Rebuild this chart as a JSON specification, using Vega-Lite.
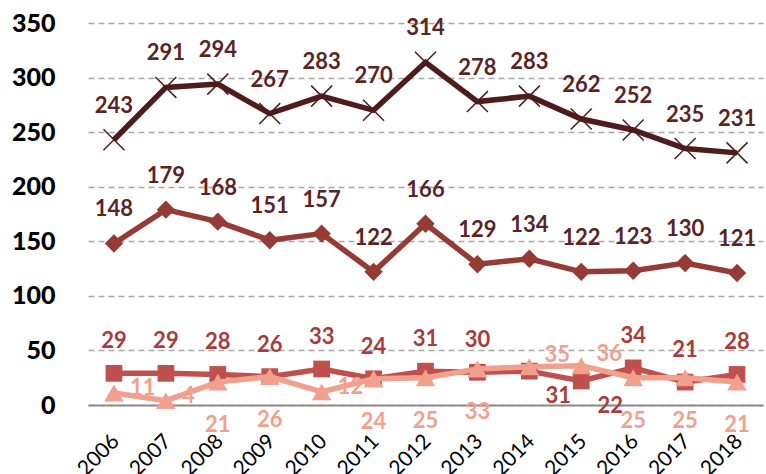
{
  "$schema": "https://vega.github.io/schema/vega-lite/v6.json",
  "autosize": "none",
  "width": 675,
  "height": 382,
  "padding": {"left": 88, "top": 23, "right": 3, "bottom": 69},
  "background": "white",
  "config": {"view": {"stroke": null}, "font": "Lato"},
  "data": {"values": [
    {"year": "2006", "s": "A", "v": 243}, {"year": "2007", "s": "A", "v": 291}, {"year": "2008", "s": "A", "v": 294}, {"year": "2009", "s": "A", "v": 267}, {"year": "2010", "s": "A", "v": 283}, {"year": "2011", "s": "A", "v": 270}, {"year": "2012", "s": "A", "v": 314}, {"year": "2013", "s": "A", "v": 278}, {"year": "2014", "s": "A", "v": 283}, {"year": "2015", "s": "A", "v": 262}, {"year": "2016", "s": "A", "v": 252}, {"year": "2017", "s": "A", "v": 235}, {"year": "2018", "s": "A", "v": 231},
    {"year": "2006", "s": "B", "v": 148}, {"year": "2007", "s": "B", "v": 179}, {"year": "2008", "s": "B", "v": 168}, {"year": "2009", "s": "B", "v": 151}, {"year": "2010", "s": "B", "v": 157}, {"year": "2011", "s": "B", "v": 122}, {"year": "2012", "s": "B", "v": 166}, {"year": "2013", "s": "B", "v": 129}, {"year": "2014", "s": "B", "v": 134}, {"year": "2015", "s": "B", "v": 122}, {"year": "2016", "s": "B", "v": 123}, {"year": "2017", "s": "B", "v": 130}, {"year": "2018", "s": "B", "v": 121},
    {"year": "2006", "s": "C", "v": 29}, {"year": "2007", "s": "C", "v": 29}, {"year": "2008", "s": "C", "v": 28}, {"year": "2009", "s": "C", "v": 26}, {"year": "2010", "s": "C", "v": 33}, {"year": "2011", "s": "C", "v": 24}, {"year": "2012", "s": "C", "v": 31}, {"year": "2013", "s": "C", "v": 30}, {"year": "2014", "s": "C", "v": 31}, {"year": "2015", "s": "C", "v": 22}, {"year": "2016", "s": "C", "v": 34}, {"year": "2017", "s": "C", "v": 21}, {"year": "2018", "s": "C", "v": 28},
    {"year": "2006", "s": "D", "v": 11}, {"year": "2007", "s": "D", "v": 4}, {"year": "2008", "s": "D", "v": 21}, {"year": "2009", "s": "D", "v": 26}, {"year": "2010", "s": "D", "v": 12}, {"year": "2011", "s": "D", "v": 24}, {"year": "2012", "s": "D", "v": 25}, {"year": "2013", "s": "D", "v": 33}, {"year": "2014", "s": "D", "v": 35}, {"year": "2015", "s": "D", "v": 36}, {"year": "2016", "s": "D", "v": 25}, {"year": "2017", "s": "D", "v": 25}, {"year": "2018", "s": "D", "v": 21}
  ]},
  "encoding": {
    "x": {"field": "year", "type": "ordinal", "scale": {"type": "point", "padding": 0.5},
      "axis": {"title": null, "labelAngle": -45, "labelFontSize": 21, "labelColor": "#000000", "labelFont": "Lato", "ticks": false, "domain": true, "domainColor": "#8c8c8c", "domainWidth": 2, "labelPadding": 25, "labelAlign": "right", "labelBaseline": "top", "labelOffset": -6}},
    "y": {"field": "v", "type": "quantitative", "scale": {"domain": [0, 350], "nice": false},
      "axis": {"title": null, "values": [0, 50, 100, 150, 200, 250, 300, 350], "labelFontSize": 25, "labelFontWeight": 900, "labelColor": "#000000", "labelPadding": 33, "ticks": false, "domain": false, "grid": true, "gridColor": "#a6a6a6", "gridDash": [6, 4], "gridWidth": 1.5}}
  },
  "layer": [
    {"transform": [{"filter": "datum.s === 'A'"}], "mark": {"type": "line", "color": "#4e1c1c", "strokeWidth": 5.5}},
    {"transform": [{"filter": "datum.s === 'A'"}], "mark": {"type": "point", "shape": "M-1,-1L1,1M-1,1L1,-1", "filled": false, "color": "#4e1c1c", "strokeWidth": 1.5, "size": 440, "opacity": 1}},
    {"transform": [{"filter": "datum.s === 'B'"}], "mark": {"type": "line", "color": "#953a34", "strokeWidth": 5.5}},
    {"transform": [{"filter": "datum.s === 'B'"}], "mark": {"type": "point", "shape": "diamond", "filled": true, "color": "#953a34", "size": 340, "opacity": 1}},
    {"transform": [{"filter": "datum.s === 'C'"}], "mark": {"type": "line", "color": "#c0504d", "strokeWidth": 5.5}},
    {"transform": [{"filter": "datum.s === 'C'"}], "mark": {"type": "point", "shape": "square", "filled": true, "color": "#c0504d", "size": 280, "opacity": 1}},
    {"transform": [{"filter": "datum.s === 'D'"}], "mark": {"type": "line", "color": "#f0a08c", "strokeWidth": 5.5}},
    {"transform": [{"filter": "datum.s === 'D'"}], "mark": {"type": "point", "shape": "triangle-up", "filled": true, "color": "#f0a08c", "size": 380, "opacity": 1}},
    {"transform": [{"filter": "datum.s === 'A' || datum.s === 'B'"}], "mark": {"type": "text", "fontSize": 22, "fontWeight": "bold", "color": "#5a2424", "dy": -34, "baseline": "middle"}, "encoding": {"text": {"field": "v", "type": "quantitative"}}},
    {"transform": [{"filter": "datum.s === 'C' && datum.year !== '2014' && datum.year !== '2015'"}], "mark": {"type": "text", "fontSize": 22, "fontWeight": "bold", "color": "#a83c3a", "dy": -32, "baseline": "middle"}, "encoding": {"text": {"field": "v", "type": "quantitative"}}},
    {"transform": [{"filter": "datum.s === 'C' && (datum.year === '2014' || datum.year === '2015')"}], "mark": {"type": "text", "fontSize": 22, "fontWeight": "bold", "color": "#a83c3a", "dx": 29, "dy": 25, "baseline": "middle"}, "encoding": {"text": {"field": "v", "type": "quantitative"}}},
    {"transform": [{"filter": "datum.s === 'D' && indexof(['2006','2007','2010','2014','2015'], datum.year) < 0"}], "mark": {"type": "text", "fontSize": 22, "fontWeight": "bold", "color": "#f0a08c", "dy": 43, "baseline": "middle"}, "encoding": {"text": {"field": "v", "type": "quantitative"}}},
    {"transform": [{"filter": "datum.s === 'D' && indexof(['2006','2007','2010'], datum.year) >= 0"}], "mark": {"type": "text", "fontSize": 22, "fontWeight": "bold", "color": "#f0a08c", "dx": 16, "dy": -5, "align": "left", "baseline": "middle"}, "encoding": {"text": {"field": "v", "type": "quantitative"}}},
    {"transform": [{"filter": "datum.s === 'D' && (datum.year === '2014' || datum.year === '2015')"}], "mark": {"type": "text", "fontSize": 22, "fontWeight": "bold", "color": "#f0a08c", "dx": 28, "dy": -12, "baseline": "middle"}, "encoding": {"text": {"field": "v", "type": "quantitative"}}}
  ]
}
